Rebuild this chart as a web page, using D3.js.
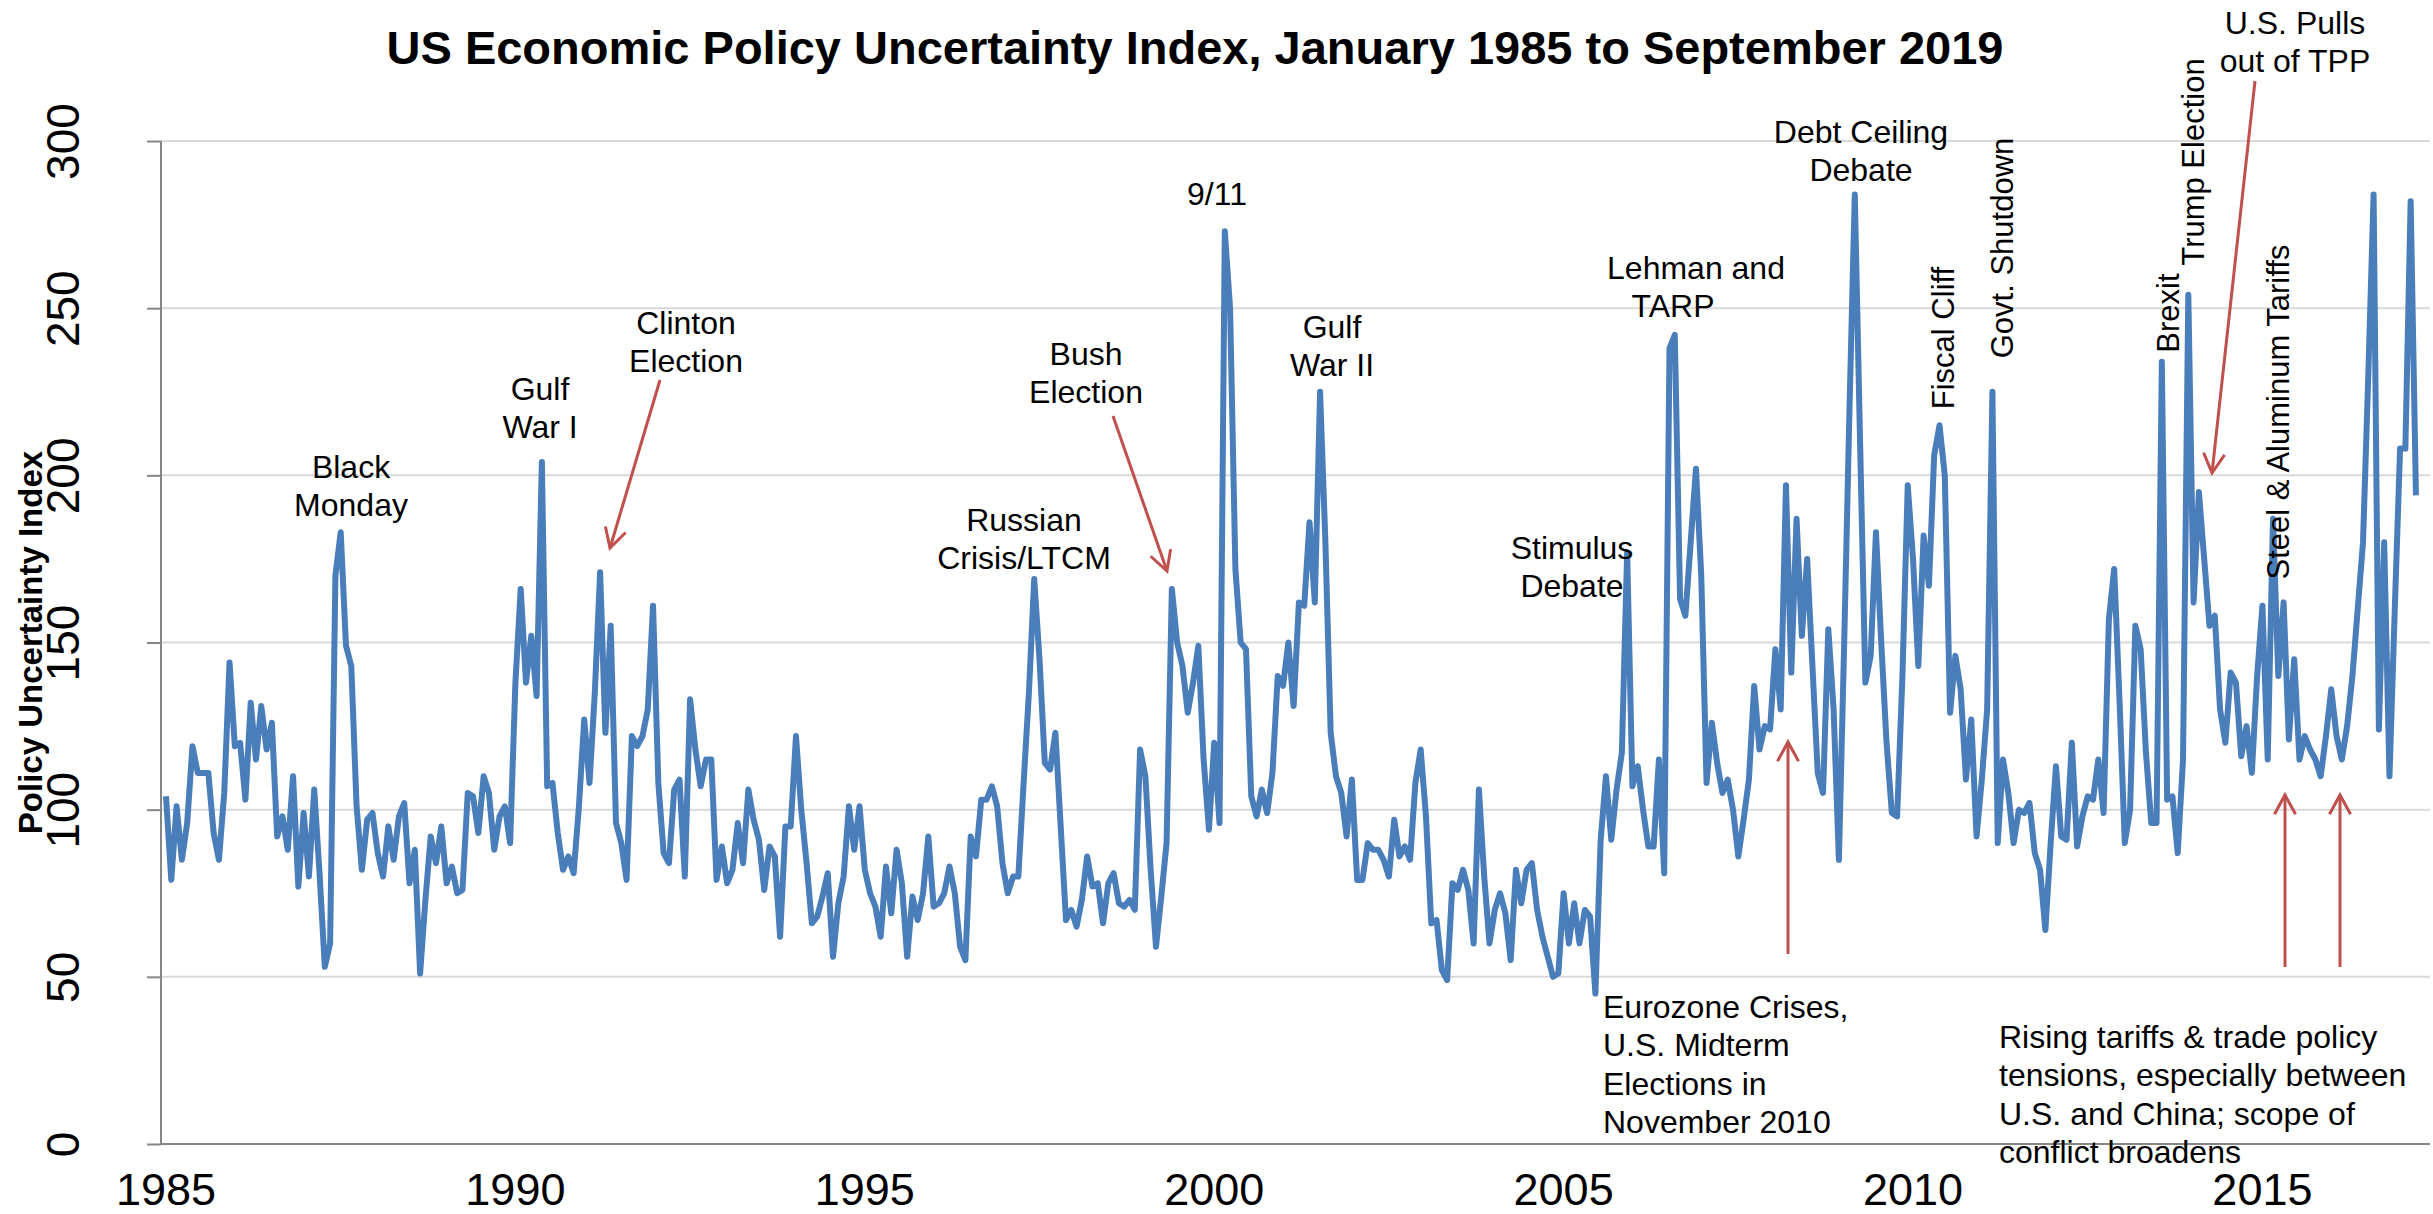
<!DOCTYPE html>
<html>
<head>
<meta charset="utf-8">
<script src="https://cdn.jsdelivr.net/npm/d3@7"></script>
<style>
  body { margin: 0; background: #fff; }
  svg text { font-family: "Liberation Sans", Arial, sans-serif; }
</style>
</head>
<body>
<div class="viz"></div>
<script>
const width = 2433;
const height = 1214;

// monthly EPU values, Jan 1985 onwards
const epu1985_1989 = [
  104, 79, 101, 85, 96, 119, 111, 111, 111, 93, 85, 105,
  144, 119, 120, 103, 132, 115, 131, 118, 126, 92, 98, 88,
  110, 77, 99, 80, 106, 81, 53, 60, 170, 183, 149, 143,
  101, 82, 97, 99, 87, 80, 95, 85, 98, 102, 78, 88,
  51, 73, 92, 84, 95, 78, 83, 75, 76, 105, 104, 93
];
const epu1990_1994 = [
  110, 105, 88, 98, 101, 90, 138, 166, 138, 152, 134, 204,
  107, 108, 93, 82, 86, 81, 101, 127, 108, 135, 171, 123,
  155, 96, 90, 79, 122, 119, 122, 130, 161, 108, 87, 84,
  106, 109, 80, 133, 118, 107, 115, 115, 79, 89, 78, 82,
  96, 84, 106, 97, 91, 76, 89, 86, 62, 95, 95, 122
];
const epu1995_1999 = [
  100, 84, 66, 68, 74, 81, 56, 72, 80, 101, 88, 101,
  82, 75, 71, 62, 83, 69, 88, 78, 56, 74, 67, 75,
  92, 71, 72, 75, 83, 75, 59, 55, 92, 86, 103, 103,
  107, 101, 84, 75, 80, 80, 108, 135, 169, 145, 114, 112,
  123, 95, 67, 70, 65, 73, 86, 77, 78, 66, 78, 81
];
const epu2000_2004 = [
  72, 71, 73, 70, 118, 110, 82, 59, 74, 90, 166, 150,
  143, 129, 138, 149, 115, 94, 120, 96, 273, 250, 172, 150,
  148, 104, 98, 106, 99, 111, 140, 137, 150, 131, 162, 161,
  186, 162, 225, 180, 123, 110, 105, 92, 109, 79, 79, 90,
  88, 88, 85, 80, 97, 86, 89, 85, 108, 118, 98, 66
];
const epu2005_2009 = [
  67, 52, 49, 78, 76, 82, 76, 60, 106, 80, 60, 70,
  75, 69, 55, 82, 72, 82, 84, 70, 62, 56, 50, 51,
  75, 60, 72, 60, 70, 68, 45, 91, 110, 91, 106, 117,
  177, 107, 113, 100, 89, 89, 115, 81, 238, 242, 163, 158,
  180, 202, 170, 108, 126, 114, 105, 109, 100, 86, 97, 109
];
const epu2010_2014 = [
  137, 118, 125, 124, 148, 130, 197, 141, 187, 152, 175, 143,
  111, 105, 154, 130, 85, 150, 220, 284, 210, 138, 146, 183,
  150, 120, 99, 98, 140, 197, 175, 143, 182, 167, 206, 215,
  200, 129, 146, 136, 109, 127, 92, 109, 130, 225, 90, 115,
  105, 90, 100, 99, 102, 87, 82, 64, 90, 113, 92, 91
];
const epu2015_2019 = [
  120, 89, 98, 104, 103, 115, 99, 157, 172, 133, 90, 100,
  155, 148, 117, 96, 96, 234, 103, 104, 87, 115,
  254, 162, 195, 175, 155, 158, 130, 120, 141, 138,
  116, 125, 111, 140, 161, 115, 187, 140, 162, 121,
  145, 115, 122, 118, 115, 110, 122, 136, 122, 115,
  125, 140, 160, 180, 230, 284, 124, 180, 110, 160,
  208, 208, 282, 194
];
const epu = [].concat(epu1985_1989, epu1990_1994, epu1995_1999,
  epu2000_2004, epu2005_2009, epu2010_2014, epu2015_2019);

const yTicks = [0, 50, 100, 150, 200, 250, 300];
const xTickLabels = ["1985", "1990", "1995", "2000", "2005", "2010", "2015"];
const monthsPerLabel = 66;

const svg = d3.select(".viz")
    .append("svg")
    .attr("width", width)
    .attr("height", height);

// scales
const x = d3.scaleLinear()
    .domain([0, epu.length - 1])
    .range([166, 166 + (epu.length - 1) * 5.294]);
const y = d3.scaleLinear()
    .domain([0, 300])
    .range([1144, 141]);

// gridlines
svg.append("g")
    .selectAll("line")
    .data(yTicks.filter(d => d > 0))
    .enter()
    .append("line")
    .attr("x1", 161)
    .attr("x2", 2430)
    .attr("y1", d => y(d))
    .attr("y2", d => y(d))
    .style("stroke", "#d9d9d9")
    .style("stroke-width", 2);

// y axis
const yAxis = svg.append("g")
    .attr("transform", "translate(161,0)")
    .call(d3.axisLeft(y).tickValues(yTicks).tickSize(14).tickPadding(0).tickFormat(d => d));
yAxis.selectAll("path, line").style("stroke", "#868686").style("stroke-width", 2);
yAxis.select(".domain").attr("d", `M0,${y(0)}V${y(300)}`);
yAxis.selectAll("text")
    .attr("x", null).attr("dy", null)
    .attr("transform", "translate(-82,0) rotate(-90)")
    .attr("text-anchor", "middle")
    .style("font-size", "46px")
    .style("fill", "#000");

// x axis
svg.append("line")
    .attr("x1", 161).attr("x2", 2430)
    .attr("y1", y(0)).attr("y2", y(0))
    .style("stroke", "#868686")
    .style("stroke-width", 2);

svg.append("g")
    .selectAll("text")
    .data(xTickLabels)
    .enter()
    .append("text")
    .attr("x", (d, i) => x(i * monthsPerLabel))
    .attr("y", 1205)
    .attr("text-anchor", "middle")
    .style("font-size", "45px")
    .text(d => d);

// the series
const line = d3.line()
    .x((d, i) => x(i))
    .y(d => y(d));

svg.append("path")
    .datum(epu)
    .attr("d", line)
    .style("fill", "none")
    .style("stroke", "#4a7ebb")
    .style("stroke-width", 6)
    .style("stroke-linejoin", "round");

// titles
svg.append("text")
    .attr("x", 1195)
    .attr("y", 64)
    .attr("text-anchor", "middle")
    .style("font-size", "47px")
    .style("font-weight", "bold")
    .text("US Economic Policy Uncertainty Index, January 1985 to September 2019");

svg.append("text")
    .attr("transform", `translate(42,${y(150)}) rotate(-90)`)
    .attr("text-anchor", "middle")
    .style("font-size", "33px")
    .style("font-weight", "bold")
    .text("Policy Uncertainty Index");

// event labels: [lines, centre x of each line, first baseline, anchor]
const notes = [
    [["Black", "Monday"], [351, 351], 478, "middle"],
    [["Gulf", "War I"], [540, 540], 400, "middle"],
    [["Clinton", "Election"], [686, 686], 334, "middle"],
    [["Russian", "Crisis/LTCM"], [1024, 1024], 531, "middle"],
    [["Bush", "Election"], [1086, 1086], 365, "middle"],
    [["9/11"], [1217], 205, "middle"],
    [["Gulf", "War II"], [1332, 1332], 338, "middle"],
    [["Stimulus", "Debate"], [1572, 1572], 559, "middle"],
    [["Lehman and", "TARP"], [1696, 1673], 279, "middle"],
    [["Debt Ceiling", "Debate"], [1861, 1861], 143, "middle"],
    [["U.S. Pulls", "out of TPP"], [2295, 2295], 34, "middle"],
    [["Eurozone Crises,", "U.S. Midterm", "Elections in", "November 2010"], [1603, 1603, 1603, 1603], 1018, "start"],
    [["Rising tariffs & trade policy", "tensions, especially between", "U.S. and China; scope of", "conflict broadens"], [1999, 1999, 1999, 1999], 1048, "start"]
];

notes.forEach(([lines, xs, ny, anchor]) => {
    const t = svg.append("text")
        .attr("text-anchor", anchor)
        .style("font-size", "32px");
    lines.forEach((s, i) => {
        t.append("tspan").attr("x", xs[i]).attr("y", ny + i * 38.3).text(s);
    });
});

// rotated labels: [text, baseline x, centre y]
const sideNotes = [
    ["Fiscal Cliff", 1954, 338],
    ["Govt. Shutdown", 2013, 248],
    ["Brexit", 2179, 313],
    ["Trump Election", 2204, 162],
    ["Steel & Aluminum Tariffs", 2289, 412]
];
sideNotes.forEach(([s, sx, sy]) => {
    svg.append("text")
        .attr("transform", `translate(${sx},${sy}) rotate(-90)`)
        .attr("text-anchor", "middle")
        .style("font-size", "31px")
        .text(s);
});

// red arrows
const arrows = [
    [660, 380, 610, 548],
    [1113, 416, 1167, 571],
    [1788, 954, 1788, 742],
    [2255, 81, 2212, 473],
    [2285, 967, 2285, 795],
    [2340, 967, 2340, 795]
];
arrows.forEach(([x1, y1, x2, y2]) => {
    const a = Math.atan2(y2 - y1, x2 - x1);
    const head = 22;
    const g = svg.append("g").style("stroke", "#c0504d").style("stroke-width", 3).style("fill", "none");
    g.append("line").attr("x1", x1).attr("y1", y1).attr("x2", x2).attr("y2", y2);
    g.append("path").attr("d",
        `M${x2 - head * Math.cos(a - 0.5)},${y2 - head * Math.sin(a - 0.5)}L${x2},${y2}L${x2 - head * Math.cos(a + 0.5)},${y2 - head * Math.sin(a + 0.5)}`);
});
</script>
</body>
</html>
